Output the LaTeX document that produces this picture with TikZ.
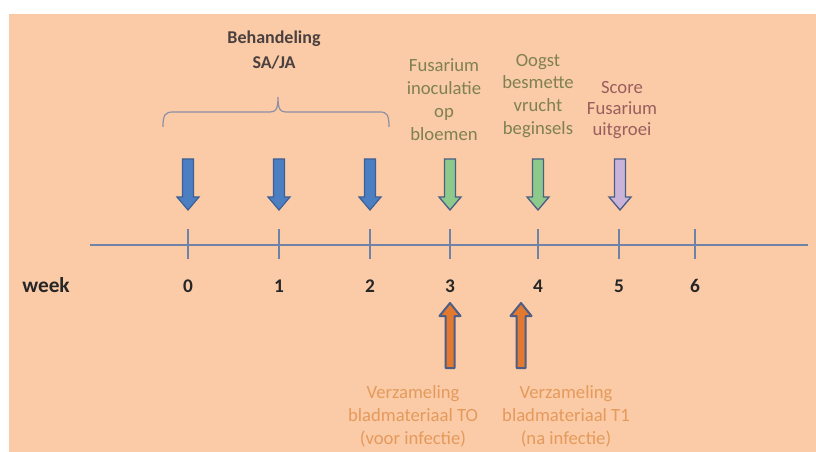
\documentclass[tikz,border=0pt]{standalone}
\usepackage{fontspec}
\setmainfont{Carlito}
\definecolor{bg}{HTML}{FACBA6}
\definecolor{axis}{HTML}{6F82A8}
\definecolor{bracec}{HTML}{8C8FA6}
\definecolor{darktxt}{HTML}{4A4040}
\definecolor{olivetxt}{HTML}{7F8150}
\definecolor{mauvetxt}{HTML}{9A5E5E}
\definecolor{orangetxt}{HTML}{E59A5C}
\definecolor{bluefill}{HTML}{4B7FC2}
\definecolor{blueline}{HTML}{3E5F95}
\definecolor{greenfill}{HTML}{8CC98A}
\definecolor{purplefill}{HTML}{C9B3D9}
\definecolor{orangefill}{HTML}{E2792E}
\definecolor{arrline}{HTML}{4C5E86}
\tikzset{
  lbl/.style={align=center, inner sep=0pt, font=\fontsize{14}{17.2}\selectfont},
  numlbl/.style={inner sep=0pt, font=\fontsize{14.5}{16}\selectfont\bfseries, text=black!85},
  downarr/.pic={\path[pic actions] (-5.5,0) -- (5.5,0) -- (5.5,38) -- (11,38) -- (0,51) -- (-11,38) -- (-5.5,38) -- cycle;},
  uparr/.pic={\path[pic actions] (0,0) -- (10.5,13) -- (4.5,13) -- (4.5,65) -- (-4.5,65) -- (-4.5,13) -- (-10.5,13) -- cycle;},
  bluearr/.style={fill=bluefill, draw=blueline, line width=0.9pt},
  greenarr/.style={fill=greenfill, draw=arrline, line width=1pt},
  purparr/.style={fill=purplefill, draw=arrline, line width=1pt},
  orarr/.style={fill=orangefill, draw=arrline, line width=1.5pt, line join=round},
}
\begin{document}
\begin{tikzpicture}[x=0.75pt, y=-0.75pt]
\useasboundingbox (0,0) rectangle (816,452);
\fill[white] (0,0) rectangle (816,452);
\fill[bg] (9,14) rectangle (816,452);
% axis
\coordinate (axL) at (90,245);
\coordinate (axR) at (808,245);
\draw[axis, line width=0.9pt] (axL) -- (axR);
\foreach \x/\n in {188/0,279/1,370/2,450/3,538/4,619/5,695/6}{
  \draw[axis, line width=0.9pt] (\x,229) -- (\x,259);
  \node[numlbl] (n\n) at (\x,286) {\n};
}
\node[numlbl, font=\fontsize{16}{18}\selectfont\bfseries] (week) at (46,285) {week};
% brace
\draw[bracec, line width=0.9pt] (163,127) .. controls (163,115) and (165,112) .. (173,112) -- (270,112) .. controls (276,112) and (278,109) .. (278,97) .. controls (278,109) and (280,112) .. (286,112) -- (380,112) .. controls (387,112) and (389,115) .. (389,127);
% texts
\node[lbl, text=darktxt, font=\fontsize{13.5}{19}\selectfont\bfseries] (beh) at (274,50) {Behandeling\\SA/JA};
\node[lbl, text=olivetxt] (fus) at (444,100) {Fusarium\\inoculatie\\op\\bloemen};
\node[lbl, text=olivetxt] (oog) at (538,96) {Oogst\\besmette\\vrucht\\beginsels};
\node[lbl, text=mauvetxt, font=\fontsize{14}{16}\selectfont] (sco) at (622,110) {Score\\Fusarium\\uitgroei};
\node[lbl, text=orangetxt] (v0) at (413,416) {Verzameling\\bladmateriaal TO\\(voor infectie)};
\node[lbl, text=orangetxt] (v1) at (566,416) {Verzameling\\bladmateriaal T1\\(na infectie)};
% arrows
\foreach \x in {188,279,370}{ \pic[bluearr] at (\x,159) {downarr}; }
\pic[greenarr] at (450,159) {downarr};
\pic[greenarr] at (538,159) {downarr};
\pic[purparr] at (620,159) {downarr};
\pic[orarr] at (450,303) {uparr};
\pic[orarr] at (521,303) {uparr};
\end{tikzpicture}
\end{document}
